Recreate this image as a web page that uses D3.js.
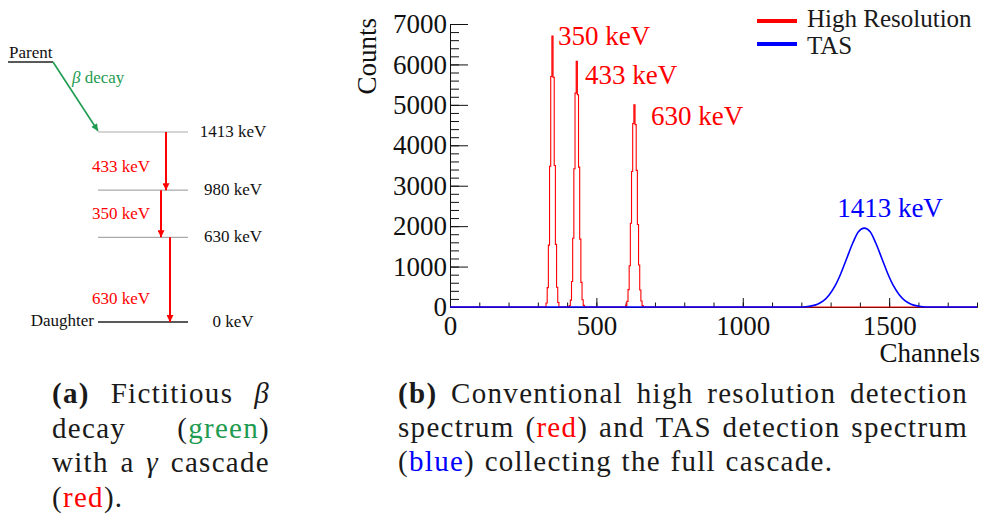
<!DOCTYPE html>
<html>
<head>
<meta charset="utf-8">
<script src="https://cdn.jsdelivr.net/npm/d3@7"></script>
<style>
  body { margin: 0; background: #fff; }
</style>
</head>
<body>
<svg id="fig" width="990" height="515"></svg>
<script>
// ---- data ----
// decay scheme (keV)
const levels = [1413, 980, 630, 0];
const levelNames = ["1413 keV", "980 keV", "630 keV", "0 keV"];
const gammaFrom = [1413, 980, 630];
const gammaTo = [980, 630, 0];
const gammaNames = ["433 keV", "350 keV", "630 keV"];

// high resolution spectrum, 4-channel bins
const binWidth = 4;
const peakStarts = [328, 407, 600];
const peak350Counts = [100, 480, 1530, 3480, 5700, 6700, 5680, 3500, 1550, 490, 110];
const peak433Counts = [35, 170, 630, 1700, 3420, 5290, 6080, 5250, 3460, 1680, 610, 180, 40];
const peak630Counts = [40, 140, 430, 1020, 2070, 3350, 4540, 5000, 4510, 3380, 2040, 1040, 420, 150, 35];
const peakNames = ["350 keV", "433 keV", "630 keV"];

// TAS spectrum
const tasChannels = [0, 1195, 1215, 1235, 1255, 1275, 1295, 1315, 1335, 1355, 1375, 1395, 1415,
  1435, 1455, 1475, 1495, 1515, 1535, 1555, 1575, 1595, 1615, 1635, 1800];
const tasCounts = [0, 0, 8, 28, 70, 150, 295, 520, 830, 1200, 1570, 1860, 1950,
  1860, 1570, 1200, 830, 520, 295, 150, 70, 28, 8, 0, 0];

const xMajor = [0, 500, 1000, 1500];
const yMajor = [0, 1000, 2000, 3000, 4000, 5000, 6000, 7000];

const RED = "#ff0000", BLUE = "#0000ff", GREEN = "#1e9b50";
const FONT = "Liberation Serif";

const svg = d3.select("#fig");

// ---- (a) decay scheme ----
const a = svg.append("g");
const ly = d3.scaleLinear().domain([0, 1413]).range([322, 132]);

const defs = svg.append("defs");
function marker(id, color) {
  defs.append("marker")
    .attr("id", id)
    .attr("viewBox", "0 0 10 10")
    .attr("refX", 10).attr("refY", 5)
    .attr("markerWidth", 9).attr("markerHeight", 7)
    .attr("markerUnits", "userSpaceOnUse")
    .attr("orient", "auto")
    .append("path").attr("d", "M0,0L10,5L0,10z").attr("fill", color);
}
marker("arrRed", RED);
marker("arrGreen", GREEN);

// parent
a.append("line").attr("x1", 8).attr("x2", 53).attr("y1", 62).attr("y2", 62)
  .attr("stroke", "#222").attr("stroke-width", 1.5);
a.append("text").attr("x", 9).attr("y", 58).attr("font-size", 17).attr("fill", "#111").text("Parent");
a.append("line").attr("x1", 53).attr("y1", 62).attr("x2", 98).attr("y2", ly(1413) - 1)
  .attr("stroke", GREEN).attr("stroke-width", 1.6).attr("marker-end", "url(#arrGreen)");
const bt = a.append("text").attr("x", 72).attr("y", 83).attr("font-size", 17).attr("fill", GREEN);
bt.append("tspan").attr("font-style", "italic").text("β");
bt.append("tspan").text(" decay");

// levels
a.selectAll(".lvl").data(levels).join("line")
  .attr("x1", 98).attr("x2", 188)
  .attr("y1", d => ly(d)).attr("y2", d => ly(d))
  .attr("stroke", d => d === 0 ? "#222" : "#aaa")
  .attr("stroke-width", d => d === 0 ? 1.5 : 1.2);
a.selectAll(".lvlt").data(levels).join("text")
  .attr("x", 233).attr("y", d => ly(d) + 5)
  .attr("text-anchor", "middle").attr("font-size", 17).attr("fill", "#111")
  .text((d, i) => levelNames[i]);
a.append("text").attr("x", 94).attr("y", ly(0) + 4).attr("text-anchor", "end")
  .attr("font-size", 17).attr("fill", "#111").text("Daughter");

// gamma arrows
const gammaX = [166, 161, 170];
gammaFrom.forEach((f, i) => {
  a.append("line").attr("x1", gammaX[i]).attr("x2", gammaX[i])
    .attr("y1", ly(f)).attr("y2", ly(gammaTo[i]))
    .attr("stroke", RED).attr("stroke-width", 2).attr("marker-end", "url(#arrRed)");
  a.append("text").attr("x", 92).attr("y", ly(gammaTo[i]) - 18)
    .attr("font-size", 17).attr("fill", RED).text(gammaNames[i]);
});

// ---- (b) spectra ----
const x = d3.scaleLinear().domain([0, 1800]).range([450, 977]);
const y = d3.scaleLinear().domain([0, 7000]).range([307, 24]);

function styleAxis(g) {
  g.attr("font-family", null).attr("font-size", null);
  g.selectAll("text").attr("font-size", 27).attr("fill", "#111");
  g.selectAll("line,path").attr("stroke", "#111");
}

svg.append("g").attr("transform", "translate(450,0)")
  .call(d3.axisLeft(y).tickValues(d3.range(0, 7001, 200)).tickSize(-9).tickSizeOuter(0).tickFormat(""))
  .call(styleAxis);
svg.append("g").attr("transform", "translate(450,0)")
  .call(d3.axisLeft(y).tickValues(yMajor).tickSize(-18).tickSizeOuter(0).tickPadding(3).tickFormat(d3.format("d")))
  .call(styleAxis);
svg.append("g").attr("transform", "translate(0,307)")
  .call(d3.axisBottom(x).tickValues(d3.range(0, 1801, 100)).tickSize(-4.5).tickSizeOuter(0).tickFormat(""))
  .call(styleAxis);
svg.append("g").attr("transform", "translate(0,307)")
  .call(d3.axisBottom(x).tickValues(xMajor).tickSize(-9).tickSizeOuter(0).tickPadding(9).tickFormat(d3.format("d")))
  .call(styleAxis);

svg.append("text").attr("transform", "translate(376,18) rotate(-90)")
  .attr("text-anchor", "end").attr("font-size", 27).attr("fill", "#111").text("Counts");
svg.append("text").attr("x", 980).attr("y", 362)
  .attr("text-anchor", "end").attr("font-size", 27).attr("fill", "#111").text("Channels");

// build step histogram points
const peaks = [peak350Counts, peak433Counts, peak630Counts];
const hrPoints = [[0, 0]];
peaks.forEach((counts, p) => {
  counts.forEach((c, i) => hrPoints.push([peakStarts[p] + i * binWidth, c]));
  hrPoints.push([peakStarts[p] + counts.length * binWidth, 0]);
});
hrPoints.push([1800, 0]);

svg.append("path").datum(hrPoints)
  .attr("d", d3.line().x(d => x(d[0])).y(d => y(d[1])).curve(d3.curveStepAfter))
  .attr("fill", "none").attr("stroke", RED).attr("stroke-width", 1.1);

svg.append("path").datum(tasChannels.map((c, i) => [c, tasCounts[i]]))
  .attr("d", d3.line().x(d => x(d[0])).y(d => y(d[1])).curve(d3.curveMonotoneX))
  .attr("fill", "none").attr("stroke", BLUE).attr("stroke-width", 1.6);

// peak labels
const peakLabelPos = [[558, 45], [585, 84], [651, 125]];
peakNames.forEach((n, i) => {
  svg.append("text").attr("x", peakLabelPos[i][0]).attr("y", peakLabelPos[i][1])
    .attr("font-size", 27).attr("fill", RED).text(n);
});
svg.append("text").attr("x", 890).attr("y", 217).attr("text-anchor", "middle")
  .attr("font-size", 27).attr("fill", BLUE).text("1413 keV");

// legend
const legend = [["High Resolution", RED], ["TAS", BLUE]];
legend.forEach(([t, c], i) => {
  svg.append("line").attr("x1", 757).attr("x2", 797).attr("y1", 21 + i * 23).attr("y2", 21 + i * 23)
    .attr("stroke", c).attr("stroke-width", 4);
  svg.append("text").attr("x", 807).attr("y", 27 + i * 27).attr("font-size", 25)
    .attr("fill", "#1a1a1a").text(t);
});

// everything so far in the serif font
svg.selectAll("text").style("font-family", FONT);

// ---- captions ----
const captionA = [
  [[["(a)", "b"]], [["Fictitious", ""]], [["β", "i"]]],
  [[["decay", ""]], [["(", ""], ["green", "g"], [")", ""]]],
  [[["with", ""]], [["a", ""]], [["γ", "i"]], [["cascade", ""]]],
  [[["(", ""], ["red", "r"], [").", ""]]]
];
const captionB = [
  [[["(b)", "b"]], [["Conventional", ""]], [["high", ""]], [["resolution", ""]], [["detection", ""]]],
  [[["spectrum", ""]], [["(", ""], ["red", "r"], [")", ""]], [["and", ""]], [["TAS", ""]], [["detection", ""]], [["spectrum", ""]]],
  [[["(", ""], ["blue", "u"], [")", ""]], [["collecting", ""]], [["the", ""]], [["full", ""]], [["cascade.", ""]]]
];

const capFs = 29;
const colorOf = { g: GREEN, r: RED, u: BLUE };
function drawCaption(lines, x0, x1, y0, lh) {
  const g = svg.append("g");
  lines.forEach((words, li) => {
    const yy = y0 + li * lh;
    const nodes = words.map(w => {
      const t = g.append("text").attr("y", yy)
        .style("font-family", FONT).style("font-size", capFs + "px")
        .style("letter-spacing", "1.3px").attr("fill", "#1a1a1a");
      w.forEach(([s, c]) => {
        const ts = t.append("tspan").text(s);
        if (c === "b") ts.attr("font-weight", "bold");
        if (c === "i") ts.attr("font-style", "italic");
        if (colorOf[c]) ts.attr("fill", colorOf[c]);
      });
      return t;
    });
    const widths = nodes.map(n => n.node().getComputedTextLength());
    const last = li === lines.length - 1;
    const gap = last || words.length < 2 ? capFs * 0.33 : (x1 - x0 - d3.sum(widths)) / (words.length - 1);
    let cx = x0;
    nodes.forEach((n, i) => { n.attr("x", cx); cx += widths[i] + gap; });
  });
}
drawCaption(captionA, 52, 270, 403, 34.5);
drawCaption(captionB, 398, 968, 403, 34);
</script>
</body>
</html>
